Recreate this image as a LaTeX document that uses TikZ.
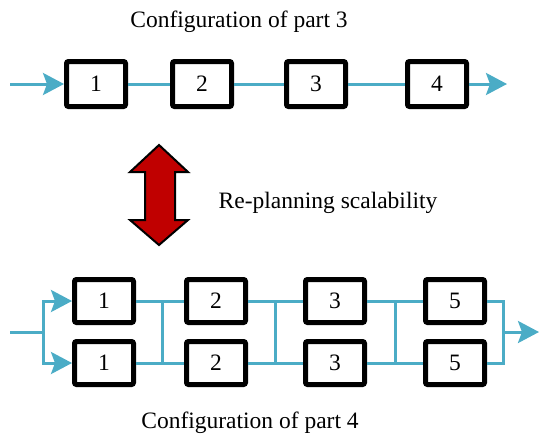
\documentclass[tikz,border=0pt]{standalone}
\usepackage{fontspec}
\setmainfont{Liberation Serif}
\usetikzlibrary{positioning}
\usetikzlibrary{arrows.meta}

\definecolor{flowcyan}{RGB}{75,172,198}
\definecolor{darkred}{RGB}{192,0,0}

\begin{document}
\begin{tikzpicture}[
                x=1pt, y=-1pt,
                font=\fontsize{23.5}{27}\selectfont,
                box/.style = {
                    draw,
                    line width = 5pt,
                    rounded corners = 2pt,
                    fill = white,
                    minimum width = 59pt,
                    minimum height = #1,
                    inner sep = 0pt
                },
                box/.default = 45pt,
                caption/.style = {anchor = base, inner sep = 0pt},
                flow/.style = {
                    draw = flowcyan,
                    line width = 3pt
                },
                flowarrow/.style = {
                    flow,
                    -{Stealth[length=21pt, width=22pt, inset=4pt]}
                }
            ]
            \useasboundingbox (0,0) rectangle (540,434);
            % part 3: single line
            \node[caption] (title3) at (239,27) {Configuration of part 3};
            \node[box] (t1) at (96,84) {1};
            \node[box, right=42pt of t1] (t2) {2};
            \node[box, right=50pt of t2] (t3) {3};
            \node[box, right=57pt of t3] (t4) {4};
            %
            \coordinate (tin) at (10,84);
            \coordinate (tout) at (507,84);
            \draw[flowarrow] (tin) -- (t1);
            \draw[flow] (t1) -- (t2);
            \draw[flow] (t2) -- (t3);
            \draw[flow] (t3) -- (t4);
            \draw[flowarrow] (t4) -- (tout);
            %
            % scalability arrow
            \draw[line width = 2pt, fill = darkred, line join = miter]
                (159,145) -- (188,172) -- (175,172) -- (175,220) -- (188,220)
                -- (159,245) -- (130,220) -- (145,220) -- (145,172) -- (130,172) -- cycle;
            \node[caption] (scal) at (328,208) {Re-planning scalability};
            %
            % part 4: two parallel lines
            \node[box=43pt] (u1) at (104,301) {1};
            \node[box=43pt, right=48pt of u1] (u2) {2};
            \node[box=43pt, right=55pt of u2] (u3) {3};
            \node[box=43pt, right=56pt of u3] (u5) {5};
            %
            \node[box=43pt, below=14pt of u1] (l1) {1};
            \node[box=43pt, below=14pt of u2] (l2) {2};
            \node[box=43pt, below=14pt of u3] (l3) {3};
            \node[box=43pt, below=14pt of u5] (l5) {5};
            %
            \coordinate (bin) at (10,332);
            \coordinate (j0) at (43,332);
            \coordinate (j1) at (162,332);
            \coordinate (j2) at (275,332);
            \coordinate (j3) at (395,332);
            \coordinate (j4) at (503,332);
            \coordinate (bout) at (539,332);
            %
            \draw[flow] (bin) -- (j0);
            \draw[flowarrow] (j0) |- (u1);
            \draw[flowarrow] (j0) |- (l1);
            %
            \draw[flow] (u1) -- (u2);
            \draw[flow] (l1) -- (l2);
            \draw[flow] (j1 |- u1) -- (j1 |- l1);
            %
            \draw[flow] (u2) -- (u3);
            \draw[flow] (l2) -- (l3);
            \draw[flow] (j2 |- u1) -- (j2 |- l1);
            %
            \draw[flow] (u3) -- (u5);
            \draw[flow] (l3) -- (l5);
            \draw[flow] (j3 |- u1) -- (j3 |- l1);
            %
            \draw[flow] (u5) -| (j4) |- (l5);
            \draw[flowarrow] (j4) -- (bout);
            %
            \node[caption] (title4) at (250,428) {Configuration of part 4};
        \end{tikzpicture}
\end{document}
